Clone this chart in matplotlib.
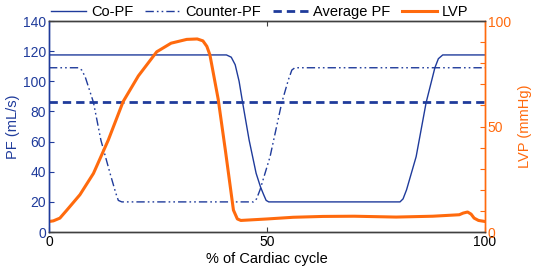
import matplotlib
matplotlib.use("Agg")
import matplotlib.pyplot as plt
from matplotlib.ticker import MultipleLocator, FixedLocator

plt.rcParams['font.family'] = ['Liberation Sans', 'DejaVu Sans']
plt.rcParams['font.size'] = 10

BLUE = '#1f3b9b'
ORANGE = '#ff6a0d'
GRAY = '#404040'

# Co-PF (mL/s)
co_x = [0, 40.7, 41.8, 42.7, 43.6, 44.4, 45.9, 47.5, 48.5, 49.2, 49.8, 50.4,
        80.5, 81.2, 82.0, 84.2, 86.5, 88.5, 89.3, 90.3, 100]
co_y = [117.5, 117.5, 116, 111, 100, 86, 61, 39, 30, 25, 21, 20,
        20, 22, 28, 50, 86, 109, 115, 117.5, 117.5]

# Counter-PF (mL/s)
ct_x = [0, 6.7, 7.5, 8.3, 10.2, 11.9, 14.0, 15.3, 15.9, 16.7,
        46.9, 47.6, 48.4, 50.7, 53.4, 54.9, 55.7, 56.4, 100]
ct_y = [109, 109, 107.5, 103, 86, 61, 39, 26, 21, 20,
        20, 22, 28, 50, 86, 101, 107.5, 109, 109]

# Average PF (mL/s)
avg_x = [0, 100]
avg_y = [86, 86]

# LVP (mmHg)
lvp_x = [0, 1, 2.5, 4.1, 7.1, 10.2, 13.6, 17.0, 20.5, 24.7, 28.0, 31.6, 34.0,
         35.3, 36.2, 36.9, 38.8, 40.5, 42.3, 43.2, 44.0, 50, 56, 62.8, 70,
         79.6, 88, 94.1, 95.0, 96.0, 96.8, 97.5, 98.5, 100]
lvp_y = [5, 5.3, 6.6, 10.4, 17.7, 27.8, 43.6, 61.8, 74, 85.4, 89.5, 91.3, 91.5,
         90.6, 88, 84, 63, 38, 10.4, 6.2, 5.5, 6.2, 7.0, 7.4, 7.5,
         7.1, 7.5, 8.2, 9.0, 9.5, 8.5, 6.6, 5.5, 5.0]

fig = plt.figure(figsize=(5.36, 2.73), dpi=100)
ax = fig.add_axes([0.0914, 0.150, 0.8135, 0.773])
ax2 = ax.twinx()

l1, = ax.plot(co_x, co_y, color=BLUE, lw=1.0, label='Co-PF')
l2, = ax.plot(ct_x, ct_y, color=BLUE, lw=1.0, linestyle=(0, (6, 2.2, 1.2, 2.2, 1.2, 2.2)),
              label='Counter-PF')
l3, = ax.plot(avg_x, avg_y, color=BLUE, lw=2.0, linestyle=(0, (3, 1.8)), label='Average PF')
l4, = ax2.plot(lvp_x, lvp_y, color=ORANGE, lw=2.2, label='LVP')

ax.set_xlim(0, 100)
ax.set_ylim(0, 140)
ax2.set_ylim(0, 100)
ax.set_xticks([0, 50, 100])
ax.yaxis.set_major_locator(MultipleLocator(20))
ax2.yaxis.set_major_locator(FixedLocator([0, 50, 100]))
ax2.yaxis.set_minor_locator(MultipleLocator(10))

ax.tick_params(axis='x', direction='in', length=3.5, width=0.8, colors=GRAY,
               labelcolor='black', top=True, labelsize=10, pad=2)
ax.tick_params(axis='y', direction='in', length=3.5, width=0.8, colors=BLUE,
               labelcolor=BLUE, labelsize=10, pad=2)
ax2.tick_params(axis='y', which='both', direction='in', length=3.5, width=0.8,
                colors=ORANGE, labelcolor=ORANGE, labelsize=10, pad=2)

for a in (ax, ax2):
    a.spines['top'].set_color(GRAY)
    a.spines['bottom'].set_color(GRAY)
    a.spines['left'].set_color(BLUE)
    a.spines['right'].set_color(ORANGE)
    for s in a.spines.values():
        s.set_linewidth(1.0)

ax.set_xlabel('% of Cardiac cycle', fontsize=10.5, labelpad=2)
ax.set_ylabel('PF (mL/s)', color=BLUE, fontsize=10.5, labelpad=2)
ax2.set_ylabel('LVP (mmHg)', color=ORANGE, fontsize=10.5, labelpad=5)

fig.legend(handles=[l1, l2, l3, l4], loc='center', bbox_to_anchor=(0.485, 0.956),
           ncol=4, frameon=False, fontsize=10.5, handlelength=2.4, handletextpad=0.35,
           columnspacing=0.8, borderaxespad=0, borderpad=0)

fig.savefig('out.png', dpi=100)
